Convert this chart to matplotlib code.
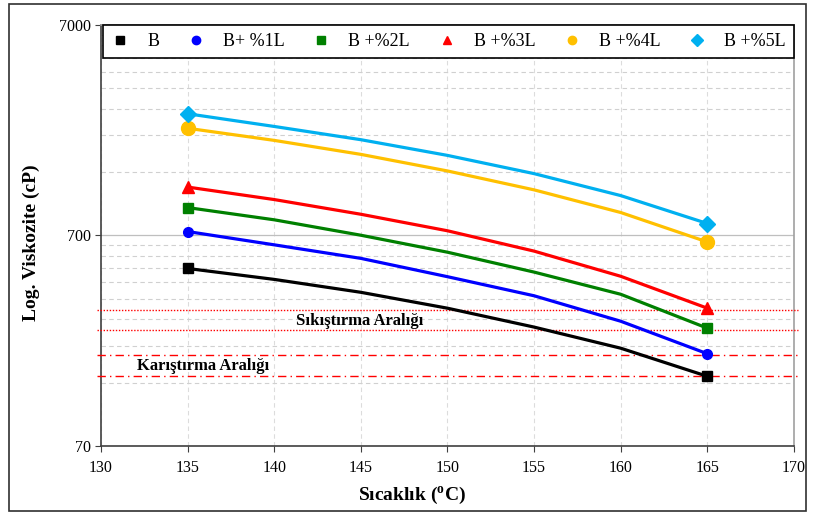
import matplotlib
matplotlib.use("Agg")
import matplotlib.pyplot as plt
from matplotlib.lines import Line2D
from matplotlib.patches import Rectangle
from matplotlib.ticker import FixedLocator, NullFormatter

plt.rcParams["font.family"] = ["Liberation Serif", "DejaVu Serif"]
plt.rcParams["mathtext.fontset"] = "custom"
plt.rcParams["mathtext.rm"] = "Liberation Serif"
plt.rcParams["mathtext.bf"] = "Liberation Serif:bold"

# temperatures (C)
temps = [135, 140, 145, 150, 155, 160, 165]

# viscosity (cP)
visc_b = [488, 433, 376, 316, 257, 204, 150]
visc_1l = [731, 632, 545, 446, 362, 274, 192]
visc_2l = [950, 831, 702, 583, 469, 368, 254]
visc_3l = [1189, 1037, 883, 737, 590, 448, 316]
visc_4l = [2262, 1981, 1700, 1418, 1153, 900, 652]
visc_5l = [2651, 2307, 1996, 1681, 1377, 1083, 798]

labels = ["B", "B+ %1L", "B +%2L", "B +%3L", "B +%4L", "B +%5L"]
colors = ["#000000", "#0000FF", "#008000", "#FF0000", "#FFC000", "#00B0F0"]
markers = ["s", "o", "s", "^", "o", "D"]
msizes = [7, 7, 7, 8, 10, 8]

compaction_range = [250, 310]
mixing_range = [150, 190]

x_ticks = [130, 135, 140, 145, 150, 155, 160, 165, 170]
y_ticks = [70, 700, 7000]
y_minor = [70 * k for k in range(2, 10)] + [700 * k for k in range(2, 10)]

fig = plt.figure(figsize=(8.14, 5.15), dpi=100)
ax = fig.add_axes([0.124, 0.134, 0.8514, 0.8175])

series = [visc_b, visc_1l, visc_2l, visc_3l, visc_4l, visc_5l]
for vals, c, m, ms in zip(series, colors, markers, msizes):
    ax.plot(temps, vals, color=c, lw=2.3, marker=m, ms=ms,
            markevery=[0, len(temps) - 1], solid_joinstyle="round", zorder=4)

# processing ranges
for v in compaction_range:
    ax.plot([129.75, 170.25], [v, v], color="#FF0000", lw=1.0, ls=(0, (1, 1.2)),
            clip_on=False, zorder=3)
for v in mixing_range:
    ax.plot([129.75, 170.25], [v, v], color="#FF0000", lw=1.0, ls=(0, (6, 3, 1, 3)),
            clip_on=False, zorder=3)

ax.text(141.25, 274, "Sıkıştırma Aralığı", fontsize=12, fontweight="bold",
        ha="left", va="center", zorder=5)
ax.text(132.1, 167, "Karıştırma Aralığı", fontsize=12, fontweight="bold",
        ha="left", va="center", zorder=5)

ax.set_yscale("log")
ax.set_xlim(130, 170)
ax.set_ylim(70, 7000)
ax.set_xticks(x_ticks)
ax.set_yticks(y_ticks)
ax.set_yticklabels([str(t) for t in y_ticks])
ax.yaxis.set_minor_locator(FixedLocator(y_minor))
ax.yaxis.set_minor_formatter(NullFormatter())
ax.tick_params(axis="y", which="minor", length=0)
ax.tick_params(axis="both", which="major", labelsize=11.5, length=4, direction="out",
               color="#404040")
ax.tick_params(axis="x", which="major", pad=6)

ax.grid(axis="y", which="minor", color="#d0d0d0", ls=(0, (4, 3)), lw=0.8)
ax.grid(axis="y", which="major", color="#bfbfbf", ls="-", lw=0.9)
ax.grid(axis="x", which="major", color="#dcdcdc", ls=(0, (4, 3)), lw=0.8)
ax.set_axisbelow(True)

for s in ["left", "bottom"]:
    ax.spines[s].set_color("#404040")
    ax.spines[s].set_linewidth(1.2)
for s in ["right", "top"]:
    ax.spines[s].set_color("#a0a0a0")
    ax.spines[s].set_linewidth(1.2)

ax.set_xlabel(r"Sıcaklık ($^{\mathbf{o}}$C)", fontsize=14, fontweight="bold")
ax.set_ylabel("Log. Viskozite (cP)", fontsize=14, fontweight="bold")
ax.xaxis.set_label_coords(0.449, -0.092)
ax.yaxis.set_label_coords(-0.088, 0.482)

handles = [Line2D([], [], color=c, marker=m, ls="none", ms=6)
           for c, m in zip(colors, markers)]
leg = ax.legend(handles, labels, ncol=6, loc="upper left",
                bbox_to_anchor=(0.003, 0.0, 0.997, 1.0), mode="expand",
                fontsize=13, frameon=True, fancybox=False, framealpha=1,
                edgecolor="black", handlelength=1.0, handletextpad=1.0,
                borderpad=0.45, borderaxespad=0.0)
leg.get_frame().set_linewidth(1.2)
leg.set_zorder(10)

fig.patches.append(Rectangle((9 / 814, 4 / 515), 797 / 814, 507 / 515,
                             transform=fig.transFigure, fill=False,
                             edgecolor="#303030", lw=1.2))

fig.savefig("out.png", dpi=100)
